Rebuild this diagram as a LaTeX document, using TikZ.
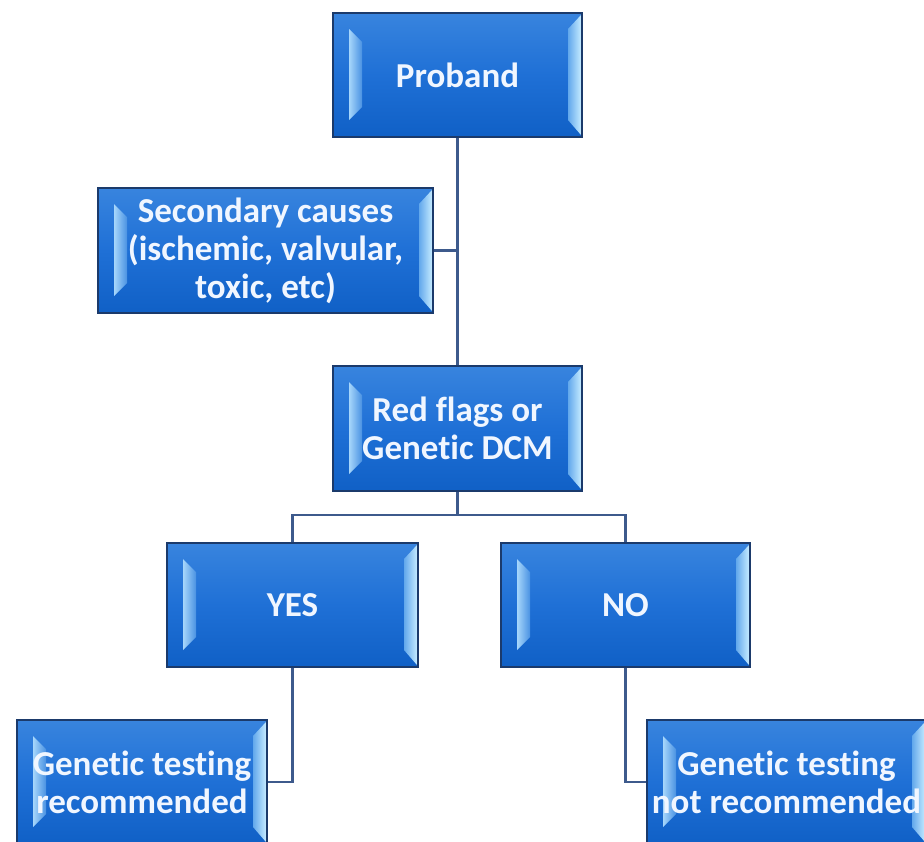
\documentclass[tikz,border=0pt]{standalone}
\usepackage{fontspec}
\setmainfont[RawFeature={-liga;-clig;-dlig;-calt;-rlig}]{Carlito}
\usetikzlibrary{calc}
\newcommand{\nolig}{\kern0pt{}}
\definecolor{boxborder}{HTML}{1B3A6B}
\definecolor{boxtop}{HTML}{3884DE}
\definecolor{boxmid}{HTML}{1F70D6}
\definecolor{boxbot}{HTML}{1060C6}
\definecolor{facetLa}{HTML}{A6D6FB}
\definecolor{facetLb}{HTML}{4A92E2}
\definecolor{facetRa}{HTML}{62A8EC}
\definecolor{facetRb}{HTML}{C4EAFF}
\definecolor{txtwhite}{HTML}{F0F6FF}
\definecolor{linkcol}{HTML}{3D5A8C}
\tikzset{
  bevbox/.style={draw=boxborder, line width=1.3pt, inner sep=0pt, align=center,
    top color=boxtop, bottom color=boxbot, middle color=boxmid,
    text=txtwhite, font=\bfseries\fontsize{35}{38}\selectfont,
    path picture={
      \coordinate (pnw) at (path picture bounding box.north west);
      \coordinate (pse) at (path picture bounding box.south east);
      \shade[left color=facetLa, right color=facetLb]
        ($(pnw)+(16,16)$) -- ($(pnw)+(29,29)$) -- ($(pnw |- pse)+(29,-30)$) -- ($(pnw |- pse)+(16,-17)$) -- cycle;
      \shade[left color=facetRa, right color=facetRb]
        ($(pse |- pnw)+(-1,2)$) -- ($(pse |- pnw)+(-14,16)$) -- ($(pse)+(-14,-17)$) -- ($(pse)+(-1,-2)$) -- cycle;
    }},
  link/.style={draw=linkcol, line width=2.6pt}
}
\begin{document}
\begin{tikzpicture}[x=1pt, y=-1pt]
\useasboundingbox (0,0) rectangle (924,841);
\fill[white] (0,0) rectangle (924,841);
\node[bevbox, minimum width=249pt, minimum height=124pt] (proband) at (457.5,75) {Proband};
\node[bevbox, minimum width=335pt, minimum height=125pt] (second) at (265.5,250.5) {Secondary causes\\(ischemic, valvular,\\toxic, etc)};
\node[bevbox, minimum width=249pt, minimum height=125pt] (red) at (457.5,428.5) {Red flags or\\Genet\nolig ic DCM};
\node[bevbox, minimum width=251pt, minimum height=124pt] (yes) at (292.5,605) {YES};
\node[bevbox, minimum width=249pt, minimum height=124pt] (no) at (625.5,605) {NO};
\node[bevbox, minimum width=250pt, minimum height=124pt] (gtr) at (142,782) {Genet\nolig ic test\nolig ing\\recommended};
\node[bevbox, minimum width=279pt, minimum height=124pt] (gtnr) at (786.5,782) {Genet\nolig ic test\nolig ing\\not recommended};
\coordinate (bus) at (457.5,515);
\draw[link] (proband.south) -- (red.north);
\draw[link] (second.east) -- (second.east -| proband.south);
\draw[link] (red.south) -- (bus);
\draw[link] (yes.north) |- (bus) -| (no.north);
\draw[link] (yes.south) |- (gtr.east);
\draw[link] (no.south) |- (gtnr.west);
\end{tikzpicture}
\end{document}
